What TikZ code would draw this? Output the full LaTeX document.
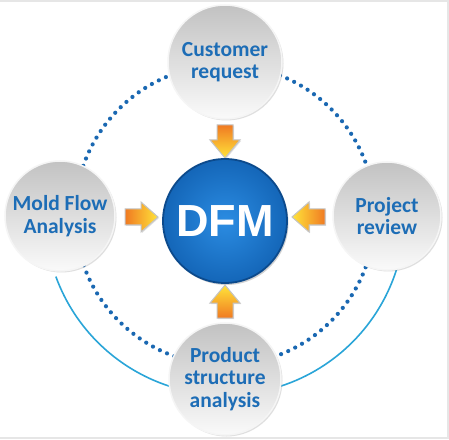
\documentclass[tikz,border=0pt]{standalone}
\usepackage{fontspec}
\newfontfamily\labelfont{Carlito}
\newfontfamily\dfmfont{Liberation Sans}
\usetikzlibrary{shadows}
\definecolor{txtblue}{HTML}{1D6DB6}
\definecolor{dotblue}{HTML}{1A68B2}
\definecolor{cyanline}{HTML}{2AA5D8}
\definecolor{framegray}{HTML}{E6E6E6}
\definecolor{bubtop}{HTML}{C2C2C2}
\definecolor{bubbot}{HTML}{FAFAFA}
\definecolor{arrorange}{HTML}{F07A22}
\definecolor{arryellow}{HTML}{FFE43A}
\definecolor{arredge}{HTML}{C4C4C4}
\definecolor{dfminner}{HTML}{2B8CE2}
\definecolor{dfmouter}{HTML}{1466B8}
\definecolor{dfmrim}{HTML}{0C4A8C}
\tikzset{
  dotline/.style={dotblue, line width=4.2pt, line cap=round, dash pattern=on 0pt off 7.8pt},
  solidline/.style={cyanline, line width=1.6pt},
  bubble/.style={circle, inner sep=0pt, align=center, top color=bubtop, bottom color=bubbot,
    draw=white!92!gray, line width=1.5pt, text=txtblue,
    font=\labelfont\bfseries\fontsize{21.5}{22.5}\selectfont,
    drop shadow={opacity=0.25, shadow xshift=1.5pt, shadow yshift=-1.5pt}},
  blockarrow/.style={draw=arredge, line width=1pt, line join=miter,
    drop shadow={opacity=0.25, shadow xshift=1pt, shadow yshift=-1pt}},
  hub/.style={circle, inner sep=0pt, minimum size=124pt, inner color=dfminner, outer color=dfmouter,
    draw=dfmrim, line width=1.8pt, text=white,
    font=\dfmfont\bfseries\fontsize{45}{48}\selectfont,
    drop shadow={opacity=0.35, shadow xshift=1.5pt, shadow yshift=-2pt}}
}
\begin{document}
\begin{tikzpicture}[x=1pt,y=1pt]
\fill[framegray] (0,0) rectangle (449,439);
\fill[white] (0,2) rectangle (447,437);
\useasboundingbox (0,0) rectangle (449,439);

\coordinate (ring) at (225,224);
\draw[dotline] (ring) circle[radius=150];
\draw[solidline] (ring) ++(200:180) arc[start angle=200, end angle=252, radius=180];
\draw[solidline] (ring) ++(288:180) arc[start angle=288, end angle=343, radius=180];

% block arrows
\path[blockarrow, top color=arrorange, bottom color=arryellow]
  (217,314) -- (233,314) -- (233,299) -- (240,299) -- (225,281) -- (210,299) -- (217,299) -- cycle;
\path[blockarrow, top color=arryellow, bottom color=arrorange]
  (217,121) -- (233,121) -- (233,136) -- (240,136) -- (225,154) -- (210,136) -- (217,136) -- cycle;
\path[blockarrow, left color=arrorange, right color=arryellow]
  (125,214) -- (141,214) -- (141,207) -- (158,222) -- (141,237) -- (141,230) -- (125,230) -- cycle;
\path[blockarrow, left color=arryellow, right color=arrorange]
  (325,214) -- (309,214) -- (309,207) -- (292,222) -- (309,237) -- (309,230) -- (325,230) -- cycle;

\node[bubble, minimum size=114pt] (cust) at (225,377) {Customer\\request};
\node[bubble, minimum size=110pt] (mold) at (60,223) {Mold Flow\\Analysis};
\node[bubble, minimum size=108pt] (proj) at (387,223) {Project\\review};
\node[bubble, minimum size=112pt] (prod) at (225,60) {Product\\structure\\analysis};

\node[hub] (dfm) at (225,218) {DFM};
\end{tikzpicture}
\end{document}
